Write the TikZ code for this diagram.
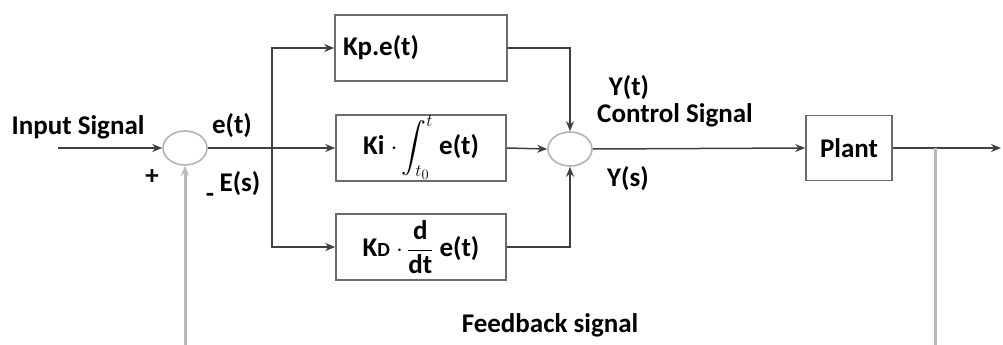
\documentclass[tikz,border=0pt]{standalone}
\usepackage{fontspec}
\setmainfont{Carlito}
\usepackage{amsmath}
\usepackage{tikz}
\usetikzlibrary{positioning,arrows.meta,shapes.geometric,calc}

\begin{document}
\begin{tikzpicture}[x=1pt, y=-1pt,
    every node/.style={font=\fontsize{27}{32}\selectfont\bfseries},
    blk/.style={draw=gray!85!black, line width=1.6pt, minimum width=170pt,
                minimum height=66pt, inner sep=0pt, align=center},
    summer/.style={draw=gray!60, line width=1.6pt, ellipse,
                   minimum width=44pt, minimum height=34pt, inner sep=0pt},
    lbl/.style={inner sep=0pt},
    wire/.style={draw=black!75, line width=1.5pt},
    arr/.style={wire, -{Stealth[length=10pt, width=8pt]}},
    fb/.style={draw=gray!55, line width=3pt}]
  \useasboundingbox (0,0) rectangle (1003,345);
  % summing junctions
  \node[summer] (s1) at (185,148) {};
  \node[summer] (s2) at (570,149) {};
  % controller blocks
  \node[blk, align=left, text width=156pt, minimum width=172pt] (kp) at (421,48) {Kp.e(t)};
  \node[blk] (ki) at (421,148) {Ki $\cdot\displaystyle\int_{t_0}^{t}$ e(t)};
  \node[blk] (kd) at (421,247) {K{\fontsize{20}{24}\selectfont D} $\cdot\,\dfrac{\text{d}}{\text{dt}}$ e(t)};
  \node[blk, minimum width=86pt, minimum height=65pt] (plant) at (849,148) {Plant};
  % free ends
  \coordinate (in) at (58,148);
  \coordinate (br) at (272,148);
  \coordinate (out) at (1001,148);
  \coordinate (tap) at (935,148);
  \coordinate (tapend) at (935,345);
  \coordinate (fbin) at (185,345);
  % labels
  \node[lbl] (tin) at (78,127) {Input Signal};
  \node[lbl] (tet) at (232,126) {e(t)};
  \node[lbl] (tplus) at (152,177) {+};
  \node[lbl] (tminus) at (210,198) {-};
  \node[lbl] (tes) at (240,184) {E(s)};
  \node[lbl] (tyt) at (629,88) {Y(t)};
  \node[lbl] (tcs) at (675,115) {Control Signal};
  \node[lbl] (tys) at (628,179) {Y(s)};
  \node[lbl] (tfb) at (550,325) {Feedback signal};
  % connectors
  \draw[arr] (in) -- (s1.west);
  \draw[arr] (s1.east) -- (ki.west);
  \draw[arr] (br) |- (kp.west);
  \draw[arr] (br) |- (kd.west);
  \draw[arr] (kp.east) -| (s2.north);
  \draw[arr] (ki.east) -- (s2.west);
  \draw[arr] (kd.east) -| (s2.south);
  \draw[arr] (s2.east) -- (plant.west);
  \draw[arr] (plant.east) -- (out);
  \draw[fb] (tap) -- (tapend);
  \draw[fb, -{Stealth[length=10pt, width=8pt]}] (fbin) -- (s1.south);
\end{tikzpicture}
\end{document}
